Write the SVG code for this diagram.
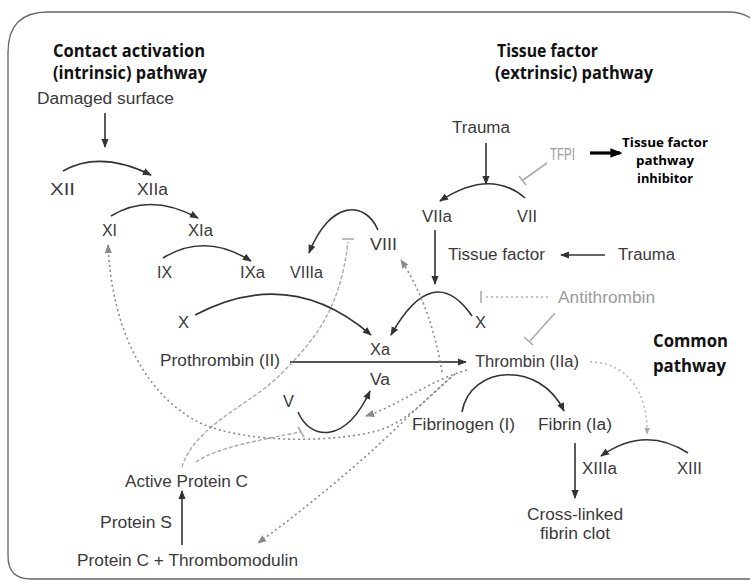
<svg xmlns="http://www.w3.org/2000/svg" width="750" height="583" viewBox="0 0 750 583">
<defs>
<style>
.lb{font-family:"Liberation Sans",Arial,sans-serif;font-size:16px;fill:#3a3a3a}
.lt{font-family:"Liberation Sans",Arial,sans-serif;font-size:16px;fill:#9a9a9a}
.tt{font-family:"Open Sans","Liberation Sans",sans-serif;font-size:17px;font-weight:700;fill:#111}
.ts{font-family:"Open Sans","Liberation Sans",sans-serif;font-size:13px;font-weight:700;fill:#000}
.s{fill:none;stroke:#333;stroke-width:1.6}
.d{fill:none;stroke:#8a8a8a;stroke-width:1.6;stroke-dasharray:2 3}
.dl{fill:none;stroke:#b0b0b0;stroke-width:1.4;stroke-dasharray:2 3}
.da{fill:none;stroke:#aaa;stroke-width:1.4;stroke-dasharray:4 2}
.inh{fill:none;stroke:#aaa;stroke-width:1.6}
</style>
<marker id="ah" viewBox="0 0 10 10" refX="9" refY="5" markerWidth="9" markerHeight="9" markerUnits="userSpaceOnUse" orient="auto"><path d="M0,1 L10,5 L0,9 z" fill="#333"/></marker>
<marker id="ag" viewBox="0 0 10 10" refX="9" refY="5" markerWidth="9" markerHeight="9" markerUnits="userSpaceOnUse" orient="auto"><path d="M0,1 L10,5 L0,9 z" fill="#8a8a8a"/></marker>
<marker id="al" viewBox="0 0 10 10" refX="9" refY="5" markerWidth="7" markerHeight="7" markerUnits="userSpaceOnUse" orient="auto"><path d="M0,1 L10,5 L0,9 z" fill="#aaa"/></marker>
<marker id="ab" viewBox="0 0 10 10" refX="8" refY="5" markerWidth="12" markerHeight="12" markerUnits="userSpaceOnUse" orient="auto"><path d="M0,1 L10,5 L0,9 z" fill="#000"/></marker>
</defs>
<rect width="750" height="583" fill="#fff"/>
<path id="frame" d="M8,52 Q8,12 48,12 H728 Q752,12 760,30 M8,52 V556 Q8,579 31,579 H760" fill="none" stroke="#666" stroke-width="1.3"/>

<g id="titles">
<text class="tt" x="53" y="57" textLength="152" lengthAdjust="spacingAndGlyphs">Contact activation</text>
<text class="tt" x="53" y="79" textLength="154" lengthAdjust="spacingAndGlyphs">(intrinsic) pathway</text>
<text class="tt" x="497" y="57" textLength="101" lengthAdjust="spacingAndGlyphs">Tissue factor</text>
<text class="tt" x="495" y="79" textLength="158" lengthAdjust="spacingAndGlyphs">(extrinsic) pathway</text>
<text class="tt" x="653" y="347" textLength="75" lengthAdjust="spacingAndGlyphs">Common</text>
<text class="tt" x="653" y="372" textLength="73" lengthAdjust="spacingAndGlyphs">pathway</text>
</g>

<g id="n-damaged"><text class="lb" x="37" y="104" textLength="137" lengthAdjust="spacingAndGlyphs">Damaged surface</text></g>
<g id="n-xii"><text class="lb" x="50" y="195" textLength="25" lengthAdjust="spacingAndGlyphs">XII</text></g>
<g id="n-xiia"><text class="lb" x="137" y="195" textLength="31" lengthAdjust="spacingAndGlyphs">XIIa</text></g>
<g id="n-xi"><text class="lb" x="102" y="236" textLength="15" lengthAdjust="spacingAndGlyphs">XI</text></g>
<g id="n-xia"><text class="lb" x="188" y="236" textLength="25" lengthAdjust="spacingAndGlyphs">XIa</text></g>
<g id="n-ix"><text class="lb" x="157" y="278" textLength="15" lengthAdjust="spacingAndGlyphs">IX</text></g>
<g id="n-ixa"><text class="lb" x="240" y="278" textLength="25" lengthAdjust="spacingAndGlyphs">IXa</text></g>
<g id="n-viiia"><text class="lb" x="290" y="278" textLength="33" lengthAdjust="spacingAndGlyphs">VIIIa</text></g>
<g id="n-viii"><text class="lb" x="370" y="250" textLength="27" lengthAdjust="spacingAndGlyphs">VIII</text></g>
<g id="n-viia"><text class="lb" x="422" y="222" textLength="30" lengthAdjust="spacingAndGlyphs">VIIa</text></g>
<g id="n-vii"><text class="lb" x="517" y="222" textLength="20" lengthAdjust="spacingAndGlyphs">VII</text></g>
<g id="n-trauma1"><text class="lb" x="452" y="133" textLength="58" lengthAdjust="spacingAndGlyphs">Trauma</text></g>
<g id="n-tfpi"><text class="lt" x="550" y="160" textLength="25" lengthAdjust="spacingAndGlyphs">TFPI</text></g>
<g id="n-tfpi-name">
<text class="ts" x="665" y="147" text-anchor="middle" textLength="86" lengthAdjust="spacingAndGlyphs">Tissue factor</text>
<text class="ts" x="665" y="165" text-anchor="middle" textLength="58" lengthAdjust="spacingAndGlyphs">pathway</text>
<text class="ts" x="665" y="183" text-anchor="middle" textLength="56" lengthAdjust="spacingAndGlyphs">inhibitor</text>
</g>
<g id="n-tf"><text class="lb" x="448" y="260" textLength="97" lengthAdjust="spacingAndGlyphs">Tissue factor</text></g>
<g id="n-trauma2"><text class="lb" x="618" y="260" textLength="57" lengthAdjust="spacingAndGlyphs">Trauma</text></g>
<g id="n-antithrombin"><text class="lt" x="558" y="303" textLength="97" lengthAdjust="spacingAndGlyphs">Antithrombin</text></g>
<g id="n-x1"><text class="lb" x="178" y="328" textLength="11" lengthAdjust="spacingAndGlyphs">X</text></g>
<g id="n-x2"><text class="lb" x="475" y="328" textLength="11" lengthAdjust="spacingAndGlyphs">X</text></g>
<g id="n-xa"><text class="lb" x="370" y="355" textLength="20" lengthAdjust="spacingAndGlyphs">Xa</text></g>
<g id="n-va"><text class="lb" x="370" y="385" textLength="20" lengthAdjust="spacingAndGlyphs">Va</text></g>
<g id="n-v"><text class="lb" x="283" y="407" textLength="11" lengthAdjust="spacingAndGlyphs">V</text></g>
<g id="n-prothrombin"><text class="lb" x="160" y="366" textLength="120" lengthAdjust="spacingAndGlyphs">Prothrombin (II)</text></g>
<g id="n-thrombin"><text class="lb" x="475" y="367" textLength="104" lengthAdjust="spacingAndGlyphs">Thrombin (IIa)</text></g>
<g id="n-fibrinogen"><text class="lb" x="412" y="430" textLength="103" lengthAdjust="spacingAndGlyphs">Fibrinogen (I)</text></g>
<g id="n-fibrin"><text class="lb" x="538" y="430" textLength="74" lengthAdjust="spacingAndGlyphs">Fibrin (Ia)</text></g>
<g id="n-xiiia"><text class="lb" x="582" y="474" textLength="35" lengthAdjust="spacingAndGlyphs">XIIIa</text></g>
<g id="n-xiii"><text class="lb" x="677" y="474" textLength="25" lengthAdjust="spacingAndGlyphs">XIII</text></g>
<g id="n-clot">
<text class="lb" x="527" y="520" textLength="96" lengthAdjust="spacingAndGlyphs">Cross-linked</text>
<text class="lb" x="540" y="539" textLength="70" lengthAdjust="spacingAndGlyphs">fibrin clot</text>
</g>
<g id="n-apc"><text class="lb" x="125" y="487" textLength="123" lengthAdjust="spacingAndGlyphs">Active Protein C</text></g>
<g id="n-ps"><text class="lb" x="100" y="528" textLength="72" lengthAdjust="spacingAndGlyphs">Protein S</text></g>
<g id="n-pctm"><text class="lb" x="77" y="566" textLength="221" lengthAdjust="spacingAndGlyphs">Protein C + Thrombomodulin</text></g>

<g id="connectors">
<line class="s" x1="105" y1="113" x2="105" y2="147" marker-end="url(#ah)"/>
<path class="s" d="M63,171 Q100,150 151,175" marker-end="url(#ah)"/>
<path class="s" d="M111,216 Q150,192 198,218" marker-end="url(#ah)"/>
<path class="s" d="M163,258 Q205,232 251,261" marker-end="url(#ah)"/>
<path class="s" d="M378,230 C365,200 330,200 309,253" marker-end="url(#ah)"/>
<path class="s" d="M525,198 Q490,168 440,201" marker-end="url(#ah)"/>
<line class="s" x1="486" y1="143" x2="486" y2="184" marker-end="url(#ah)"/>
<line class="s" x1="435" y1="230" x2="435" y2="284" marker-end="url(#ah)"/>
<line class="s" x1="605" y1="255" x2="561" y2="255" marker-end="url(#ah)"/>
<path class="s" d="M195,315 Q290,265 371,335" marker-end="url(#ah)"/>
<path class="s" d="M472,316 Q433,260 391,335" marker-end="url(#ah)"/>
<line x1="290" y1="362" x2="466" y2="362" stroke="#555" stroke-width="2.2" marker-end="url(#ah)"/>
<path class="s" d="M298,412 C310,440 345,445 370,391" marker-end="url(#ah)"/>
<path class="s" d="M462,412 C470,365 540,360 564,411" marker-end="url(#ah)"/>
<line class="s" x1="575" y1="443" x2="575" y2="498" marker-end="url(#ah)"/>
<path class="s" d="M688,453 Q645,425 601,456" marker-end="url(#ah)"/>
<line class="s" x1="182" y1="545" x2="182" y2="491" marker-end="url(#ah)"/>
<line x1="590" y1="153" x2="620" y2="153" stroke="#000" stroke-width="3.2" marker-end="url(#ab)"/>

<line class="inh" x1="547" y1="163" x2="523" y2="180"/>
<line class="inh" x1="519" y1="176" x2="526" y2="185"/>
<line class="dl" x1="548" y1="297" x2="483" y2="297"/>
<line class="inh" x1="481" y1="291" x2="481" y2="303"/>
<line class="inh" x1="555" y1="313" x2="530" y2="341"/>
<line class="inh" x1="524" y1="337" x2="533" y2="345"/>

<path class="da" d="M182,467 C195,425 250,405 280,375 C315,340 340,310 348,242"/>
<line class="inh" x1="342" y1="239" x2="354" y2="239"/>
<path class="da" d="M196,462 C215,448 260,440 300,432"/>
<line class="inh" x1="298" y1="427" x2="304" y2="437"/>

<path class="d" d="M442,372 C435,330 422,292 401,260" stroke-width="2" marker-end="url(#ag)"/>
<path class="d" d="M467,370 C430,380 400,405 366,416" marker-end="url(#ag)"/>
<path class="d" d="M455,374 C430,395 410,420 380,430 C340,442 250,445 200,423 C145,395 112,330 108,245" marker-end="url(#ag)"/>
<path class="d" d="M450,378 C425,400 400,425 375,448 C340,480 290,520 258,543" marker-end="url(#ag)"/>
<path class="dl" d="M590,362 C625,362 648,390 647,434" marker-end="url(#al)"/>
</g>
</svg>
